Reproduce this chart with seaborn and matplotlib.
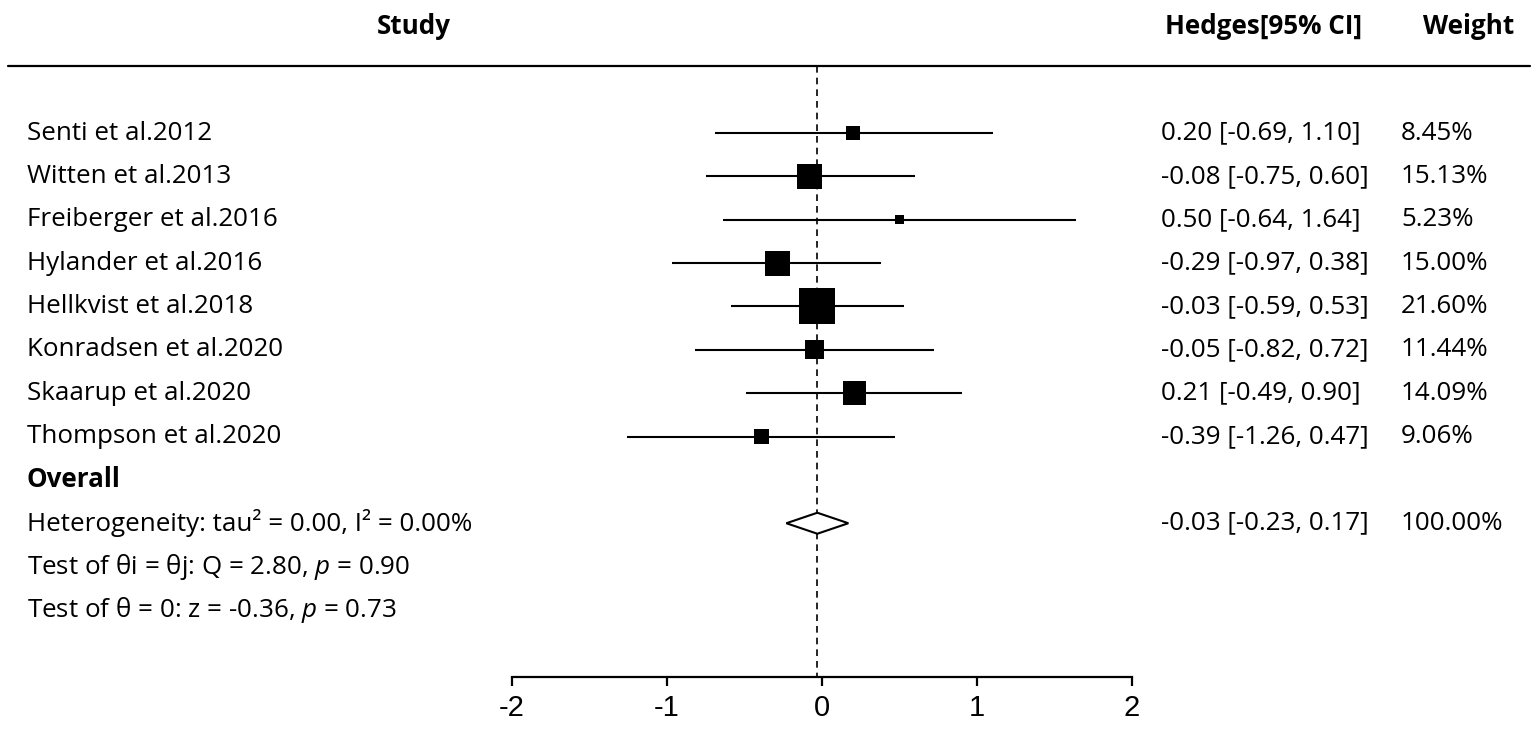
import numpy as np
import pandas as pd
import matplotlib
matplotlib.use("Agg")
import matplotlib.pyplot as plt
import seaborn as sns

studies = ["Senti et al.2012", "Witten et al.2013", "Freiberger et al.2016",
           "Hylander et al.2016", "Hellkvist et al.2018", "Konradsen et al.2020",
           "Skaarup et al.2020", "Thompson et al.2020"]
est = [0.20, -0.08, 0.50, -0.29, -0.03, -0.05, 0.21, -0.39]
lo = [-0.69, -0.75, -0.64, -0.97, -0.59, -0.82, -0.49, -1.26]
hi = [1.10, 0.60, 1.64, 0.38, 0.53, 0.72, 0.90, 0.47]
weight = [8.45, 15.13, 5.23, 15.00, 21.60, 11.44, 14.09, 9.06]

overall_est = -0.03
overall_lo = -0.23
overall_hi = 0.17

stats_lines = ["Heterogeneity: tau\u00b2 = 0.00, I\u00b2 = 0.00%",
               "Test of \u03b8i = \u03b8j: Q = 2.80, $p$ = 0.90",
               "Test of \u03b8 = 0: z = -0.36, $p$ = 0.73"]
xticks = [-2, -1, 0, 1, 2]

sns.set_style("white")
plt.rcParams['font.family'] = ['Open Sans', 'DejaVu Sans']
plt.rcParams['text.color'] = 'black'
plt.rcParams['mathtext.fontset'] = 'custom'
plt.rcParams['mathtext.rm'] = 'Open Sans'
plt.rcParams['mathtext.it'] = 'Open Sans:italic'

df = pd.DataFrame({"study": studies, "est": est, "lo": lo, "hi": hi, "weight": weight})
df["row"] = np.arange(len(df))
df["area"] = (1.2 * df["weight"]) ** 2
df["ci"] = [f"{e:.2f} [{a:.2f}, {b:.2f}]" for e, a, b in zip(est, lo, hi)]
df["wlab"] = [f"{w:.2f}%" for w in weight]

fs = 18.7
fig = plt.figure(figsize=(15.35, 7.3), dpi=100)
ax = fig.add_axes([0, 0, 1, 1])

# pixel mapping: -2 -> 512px, 2 -> 1132px ; row 0 -> 133px, 43.36px per row
ppu = 155.0
ax.set_xlim(-2 - 512 / ppu, 2 + (1535 - 1132) / ppu)
rowpx = 43.36
ax.set_ylim((730 - 133) / rowpx, -133 / rowpx)

ax.hlines(df["row"], df["lo"], df["hi"], color="black", lw=1.5)
sns.scatterplot(data=df, x="est", y="row", size="area",
                sizes=(df["area"].min(), df["area"].max()),
                marker="s", color="black", edgecolor="black", linewidth=0,
                legend=False, ax=ax, zorder=3)

n = len(df)
ov_row = n
stat_row = n + 1
h = 10.5 / rowpx
ax.fill([overall_lo, overall_est, overall_hi, overall_est],
        [stat_row, stat_row - h, stat_row, stat_row + h],
        facecolor="white", edgecolor="black", lw=1.5, zorder=3)

head_y = (65.5 - 133) / rowpx
axis_y = (676.5 - 133) / rowpx
ax.plot([overall_est, overall_est], [head_y, axis_y], ls=(0, (4, 3)), color="black", lw=1.2, zorder=2)
ax.axhline(head_y, xmin=8 / 1535, xmax=1530 / 1535, color="black", lw=1.6)

tr = ax.get_yaxis_transform()
xs, xc, xw = 27 / 1535, 1161 / 1535, 1401 / 1535
for r, s, c, w in zip(df["row"], df["study"], df["ci"], df["wlab"]):
    ax.text(xs, r, s, transform=tr, fontsize=fs, va="center")
    ax.text(xc, r, c, transform=tr, fontsize=fs, va="center")
    ax.text(xw, r, w, transform=tr, fontsize=fs, va="center")
ax.text(xs, ov_row, "Overall", transform=tr, fontsize=fs, va="center", fontweight="bold")
for i, s in enumerate(stats_lines):
    ax.text(xs, stat_row + i, s, transform=tr, fontsize=fs, va="center")
ax.text(xc, stat_row, f"{overall_est:.2f} [{overall_lo:.2f}, {overall_hi:.2f}]",
        transform=tr, fontsize=fs, va="center")
ax.text(xw, stat_row, "100.00%", transform=tr, fontsize=fs, va="center")

hy = (26 - 133) / rowpx
ax.text(414 / 1535, hy, "Study", transform=tr, fontsize=fs, va="center", ha="center", fontweight="bold")
ax.text(1264 / 1535, hy, "Hedges[95% CI]", transform=tr, fontsize=fs, va="center", ha="center", fontweight="bold")
ax.text(1469 / 1535, hy, "Weight", transform=tr, fontsize=fs, va="center", ha="center", fontweight="bold")

for sp in ["top", "left", "right"]:
    ax.spines[sp].set_visible(False)
ax.spines["bottom"].set_position(("data", axis_y))
ax.spines["bottom"].set_bounds(-2, 2)
ax.spines["bottom"].set_linewidth(1.6)
ax.spines["bottom"].set_color("black")
ax.set_xticks(xticks)
ax.set_xticklabels([str(t) for t in xticks], family=["Liberation Sans", "DejaVu Sans"])
ax.tick_params(axis="x", direction="out", length=6.5, width=1.6, labelsize=21, pad=6, bottom=True,
               colors="black", labelcolor="black")
ax.set_yticks([])
ax.set_xlabel("")
ax.set_ylabel("")

fig.savefig("out.png", dpi=100)
